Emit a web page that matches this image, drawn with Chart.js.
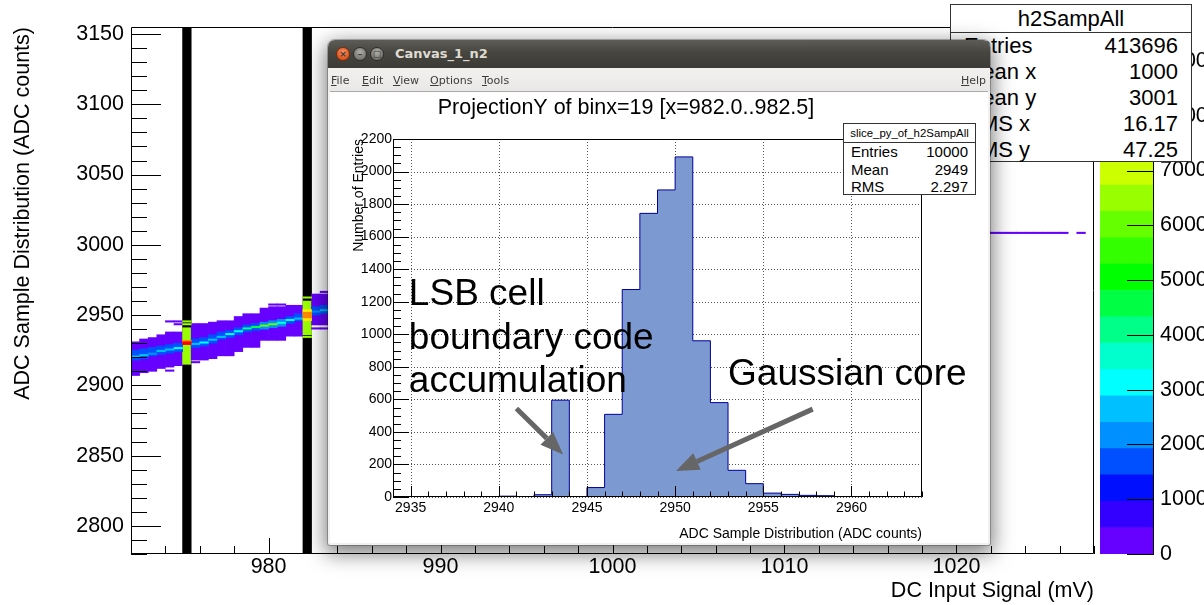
<!DOCTYPE html>
<html lang="en">
<head>
<meta charset="utf-8">
<title>h2SampAll / slice_py_of_h2SampAll</title>
<script src="https://cdn.jsdelivr.net/npm/chart.js@4.4.1/dist/chart.umd.min.js"></script>
<style>
  html, body { margin: 0; padding: 0; background: #fff; }
  body { position: relative; width: 1204px; height: 605px; overflow: hidden;
         font-family: "Liberation Sans", Arial, Helvetica, sans-serif; color: #000; }
  canvas { position: absolute; display: block; }
  #mainPlot { left: 0; top: 0; z-index: 1; }
  #zPlot { left: 1095px; top: 0; z-index: 1; }
  #slicePlot { left: 330px; top: 92px; z-index: 4; }

  .stats { position: absolute; background: #fff; border: 1px solid #333; box-sizing: border-box; }
  .stats .head { text-align: center; border-bottom: 1px solid #333; white-space: nowrap; }
  .stats .row { display: flex; justify-content: space-between; white-space: nowrap; }
  #stats2d { left: 950px; top: 4px; width: 242px; height: 158px; z-index: 2; font-size: 22px; }
  #stats2d .head { height: 27px; line-height: 27px; }
  #stats2d .row { height: 26px; line-height: 26px; padding: 0 13px 0 13px; }
  #statsSlice { left: 843px; top: 123px; width: 133px; height: 72px; z-index: 5; font-size: 15px; }
  #statsSlice .head { height: 18px; line-height: 18px; font-size: 11.4px; }
  #statsSlice .row { height: 17.6px; line-height: 17.6px; padding: 0 7px 0 7px; }

  #win { position: absolute; left: 328px; top: 40px; width: 662px; height: 505px; z-index: 3;
         background: #f2f1f0; border-radius: 7px 7px 2px 2px;
         box-shadow: 0 6px 20px 3px rgba(0,0,0,0.5), 0 0 0 1px rgba(0,0,0,0.25); }
  #win .titlebar { position: absolute; left: 0; top: 0; width: 100%; height: 28px; border-radius: 7px 7px 0 0;
         background: linear-gradient(#5d5c57, #46453f 45%, #3c3b37); }
  #win .btn { position: absolute; top: 7px; width: 14px; height: 14px; border-radius: 50%; box-sizing: border-box;
         font: bold 9px/12px "DejaVu Sans", sans-serif; text-align: center; color: #3c3b37; }
  #win .btn.close { left: 8px; background: radial-gradient(circle at 50% 35%, #f8916a, #e35d25 60%, #c2410f);
         border: 1px solid #7a2e0c; }
  #win .btn.min { left: 25px; background: radial-gradient(circle at 50% 35%, #b0afaa, #7f7e79 60%, #66655f);
         border: 1px solid #2e2d2a; }
  #win .btn.max { left: 42px; background: radial-gradient(circle at 50% 35%, #b0afaa, #7f7e79 60%, #66655f);
         border: 1px solid #2e2d2a; }
  #win .wtitle { position: absolute; left: 67px; top: 6px; font: bold 13px/15px "DejaVu Sans", sans-serif; color: #dfdbd2; }
  #win .menubar { position: absolute; left: 0; top: 28px; width: 100%; height: 23px;
         background: linear-gradient(#f2f1f0, #e9e8e7); font: 11px/13px "DejaVu Sans", sans-serif; color: #3c3c3c; }
  #win .menubar span { position: absolute; top: 6px; }
  #win .pad { position: absolute; left: 2px; top: 51px; width: 658px; height: 452px; background: #fff;
         border-top: 1px solid #a9a9a9; box-sizing: border-box; }
</style>
</head>
<body>
<canvas id="mainPlot" width="1204" height="605"></canvas>
<canvas id="zPlot" width="109" height="605"></canvas>
<div id="stats2d" class="stats"></div>

<div id="win">
  <div class="titlebar">
    <span class="btn close">×</span><span class="btn min">–</span><span class="btn max">□</span>
    <span class="wtitle">Canvas_1_n2</span>
  </div>
  <div class="menubar">
    <span style="left:3px"><u>F</u>ile</span>
    <span style="left:34px"><u>E</u>dit</span>
    <span style="left:65px"><u>V</u>iew</span>
    <span style="left:102px"><u>O</u>ptions</span>
    <span style="left:154px"><u>T</u>ools</span>
    <span style="left:633px"><u>H</u>elp</span>
  </div>
  <div class="pad"></div>
</div>
<canvas id="slicePlot" width="658" height="451"></canvas>
<div id="statsSlice" class="stats"></div>

<script>
// ---- colour contours (20 levels, rainbow palette) ----
const zLevels = [0, 481, 962, 1443, 1924, 2405, 2886, 3367, 3848, 4329, 4810,
                 5291, 5772, 6253, 6734, 7215, 7696, 8177, 8658, 9139, 9620];
const zPalette = ['#6600ff', '#3300ff', '#0010ff', '#0050ff', '#0090ff', '#00c0ff', '#00ffff',
                  '#00ffcc', '#00ff88', '#00ff44', '#00ff00', '#33ff00', '#66ff00', '#99ff00',
                  '#ccff00', '#ffee00', '#ffbb00', '#ff8800', '#ff4400', '#ff0000'];
const zTickValues = [0, 1000, 2000, 3000, 4000, 5000, 6000, 7000, 8000, 9000];

// ---- h2SampAll: x bins (centres, 0.5 mV wide) left of the slice window ----
const sampCols = [972.25, 972.75, 973.25, 973.75, 974.25, 974.75, 975.25, 975.75, 976.25, 976.75,
                  977.25, 977.75, 978.25, 978.75, 979.25, 979.75, 980.25, 980.75, 981.25, 981.75,
                  982.25, 982.75, 983.25];
// occupied ADC range per column
const bandLo = [2907, 2909, 2910, 2912, 2913, 2914, 2915, 2918, 2918, 2919, 2921, 2921,
                2924, 2927, 2927, 2932, 2932, 2932, 2935, 2935, 2936, 2943, 2943];
const bandHi = [2931, 2933, 2934, 2936, 2938, 2938, 2941, 2944, 2944, 2945, 2946, 2946,
                2949, 2951, 2951, 2955, 2956, 2956, 2957, 2957, 2960, 2965, 2965];
const bandLevel = [0, 0, 0, 0, 0, 0, 13, 0, 0, 0, 0, 0, 0, 0, 0, 0, 0, 0, 0, 0, 13, 0, 0];
// denser core of each column
const coreLo = [2918, 2919, 2921, 2922, 2923, 2924, null, 2927, 2928, 2930, 2933, 2934,
                2936, 2938, 2939, 2940, 2941, 2942, 2944, 2946, null, 2950, 2951];
const coreHi = [2925, 2926, 2927, 2928, 2929, 2930, null, 2933, 2934, 2936, 2938, 2939,
                2941, 2943, 2944, 2945, 2946, 2947, 2949, 2951, null, 2956, 2957];
const coreLevel = [3, 3, 3, 3, 3, 3, null, 3, 3, 3, 3, 3, 3, 3, 3, 4, 4, 4, 3, 3, null, 3, 3];
// most populated code of each column
const peakLo = [2920, 2921, 2922, 2924, 2925, 2926, null, 2929, 2930, 2932, 2934, 2936,
                2938, 2940, 2941, 2942, 2943, 2944, 2946, 2947, null, 2952, 2953];
const peakHi = [2921, 2922, 2923, 2925, 2926, 2927, null, 2930, 2931, 2933, 2935, 2937,
                2939, 2941, 2942, 2943, 2944, 2945, 2947, 2948, null, 2953, 2954];
const peakLevel = [5, 5, 4, 5, 5, 6, null, 5, 6, 5, 5, 6, 6, 8, 9, 12, 12, 7, 6, 5, null, 4, 5];
// hot cells in the two stuck columns
const hotCols = [975.25, 975.25, 982.25, 982.25];
const hotLo = [2931, 2929, 2946, 2948];
const hotHi = [2932, 2931, 2954, 2952];
const hotLevel = [17, 19, 15, 17];
// stuck columns (whole column filled)
const stuckCols = [975.25, 982.25];
const stuckLo = [2780, 2780];
const stuckHi = [3155, 3155];
// isolated single-code cells
const strayCols = [974.25, 974.75, 974.75, 974.25, 975.25, 975.25, 975.75, 980.25, 980.75,
                   982.25, 982.25, 982.75, 983.25, 983.25];
const strayLo = [2945, 2945, 2943, 2910, 2945, 2943, 2916, 2957, 2957, 2962, 2934, 2940, 2940, 2966];
const strayHi = [2946, 2946, 2944, 2911, 2946, 2944, 2917, 2958, 2958, 2963, 2935, 2941, 2941, 2967];
const strayLevel = [0, 0, 0, 0, 13, 13, 0, 0, 0, 13, 13, 0, 0, 0];
// thin trace at the upper end of the scan
const tailCols = [1021.75, 1022.25, 1022.75, 1023.25, 1023.75, 1024.25, 1024.75, 1025.25,
                  1025.75, 1026.25, 1027.25];
const tailLo = [3008, 3008, 3008, 3008, 3008, 3008, 3008, 3008, 3008, 3008, 3008];
const tailHi = [3009, 3009, 3009, 3009, 3009, 3009, 3009, 3009, 3009, 3009, 3009];

const stats2dLabels = ['Entries', 'Mean x', 'Mean y', 'RMS x', 'RMS y'];
const stats2dValues = ['413696', '1000', '3001', '16.17', '47.25'];

// ---- slice_py_of_h2SampAll: projection of binx=19 ----
const sliceEdges = [2934, 2935, 2936, 2937, 2938, 2939, 2940, 2941, 2942, 2943, 2944, 2945, 2946,
                    2947, 2948, 2949, 2950, 2951, 2952, 2953, 2954, 2955, 2956, 2957, 2958, 2959,
                    2960, 2961, 2962, 2963, 2964];
const sliceCounts = [0, 0, 0, 0, 0, 0, 5, 0, 14, 595, 0, 58, 508, 1275, 1743, 1887, 2090,
                     960, 580, 164, 82, 24, 16, 10, 8, 0, 0, 0, 0, 0];
const sliceStatsLabels = ['Entries', 'Mean', 'RMS'];
const sliceStatsValues = ['10000', '2949', '2.297'];

// text and arrows on the slice, in axis units
const lsbNote = ['LSB cell', 'boundary code', 'accumulation'];
const lsbNoteX = 2934.9;
const lsbNoteY = [1182, 909, 648];
const coreNote = 'Gaussian core';
const coreNoteX = 2953.0;
const coreNoteY = 689;
const arrowFrom = [[2941.0, 544], [2957.8, 540]];
const arrowTo = [[2943.65, 261], [2950.05, 160]];

const FONT = '"Liberation Sans", Arial, Helvetica, sans-serif';
Chart.defaults.font.family = FONT;
Chart.defaults.color = '#000';
Chart.defaults.animation = false;
Chart.defaults.responsive = false;
Chart.defaults.plugins.legend.display = false;
Chart.defaults.plugins.tooltip.enabled = false;

const crisp = v => Math.round(v) + 0.5;
const onStep = (v, step) => Math.abs(v / step - Math.round(v / step)) < 1e-6;

// ROOT style: ticks pointing into the frame, optional dotted grid
function rootAxes(cfg) {
  return {
    id: 'rootAxes',
    beforeDatasetsDraw(chart) {
      if (!cfg.grid) return;
      const { ctx, chartArea: a, scales } = chart;
      ctx.save();
      ctx.strokeStyle = '#555';
      ctx.lineWidth = 1;
      ctx.setLineDash([1, 2]);
      ctx.beginPath();
      for (const t of scales.x.ticks) {
        if (!onStep(t.value, cfg.grid.x)) continue;
        const p = crisp(scales.x.getPixelForValue(t.value));
        ctx.moveTo(p, a.top); ctx.lineTo(p, a.bottom);
      }
      for (const t of scales.y.ticks) {
        if (!onStep(t.value, cfg.grid.y)) continue;
        const p = crisp(scales.y.getPixelForValue(t.value));
        ctx.moveTo(a.left, p); ctx.lineTo(a.right, p);
      }
      ctx.stroke();
      ctx.restore();
    },
    afterDraw(chart) {
      const { ctx, chartArea: a, scales } = chart;
      ctx.save();
      ctx.strokeStyle = '#000';
      ctx.lineWidth = 1;
      ctx.beginPath();
      for (const id of ['x', 'y']) {
        const s = scales[id];
        const [long, short] = cfg[id].len;
        for (const t of s.ticks) {
          const len = onStep(t.value, cfg[id].major) ? long : short;
          const p = crisp(s.getPixelForValue(t.value));
          if (id === 'x') { ctx.moveTo(p, a.bottom); ctx.lineTo(p, a.bottom - len); }
          else { ctx.moveTo(a.left, p); ctx.lineTo(a.left + len, p); }
        }
      }
      ctx.rect(Math.round(a.left) + 0.5, Math.round(a.top) + 0.5,
               Math.round(a.width) - 1, Math.round(a.height) - 1);
      ctx.stroke();
      ctx.restore();
    }
  };
}

function cellSet(xs, lo, hi, levels, order) {
  return {
    data: xs.map((x, i) => ({ x, y: lo[i] == null ? null : [lo[i], hi[i]] })),
    backgroundColor: xs.map((x, i) => levels[i] == null ? 'rgba(0,0,0,0)' : zPalette[levels[i]]),
    borderWidth: 0,
    grouped: false,
    barPercentage: 1,
    categoryPercentage: 1,
    order
  };
}

// ---- main 2D view ----
new Chart(document.getElementById('mainPlot'), {
  type: 'bar',
  data: {
    datasets: [
      cellSet(hotCols, hotLo, hotHi, hotLevel, 0),
      cellSet(sampCols, peakLo, peakHi, peakLevel, 1),
      cellSet(sampCols, coreLo, coreHi, coreLevel, 2),
      cellSet(strayCols, strayLo, strayHi, strayLevel, 3),
      cellSet(sampCols, bandLo, bandHi, bandLevel, 4),
      cellSet(tailCols, tailLo, tailHi, tailCols.map(() => 0), 4),
      Object.assign(cellSet(stuckCols, stuckLo, stuckHi, [0, 0], 5), { backgroundColor: '#000' })
    ]
  },
  options: {
    layout: { padding: { left: 0, right: 110, top: 27, bottom: 0 } },
    scales: {
      x: {
        type: 'linear', min: 972, max: 1028, offset: false,
        grid: { display: false, drawTicks: false }, border: { display: false },
        ticks: { stepSize: 2, autoSkip: false, maxRotation: 0, includeBounds: false, padding: 0,
                 font: { size: 21.5 }, callback: v => onStep(v, 10) ? String(v) : '' },
        title: { display: true, text: 'DC Input Signal (mV)', align: 'end',
                 font: { size: 21.5 }, padding: { top: 0, bottom: 1 } },
        afterFit: s => { s.height = 51; }
      },
      y: {
        min: 2780, max: 3155,
        grid: { display: false, drawTicks: false }, border: { display: false },
        ticks: { stepSize: 10, autoSkip: false, includeBounds: false, padding: 7,
                 font: { size: 21.5 }, callback: v => onStep(v, 50) ? String(v) : '' },
        title: { display: true, text: 'ADC Sample Distribution (ADC counts)', align: 'end',
                 font: { size: 21.5 }, padding: { top: 10, bottom: 0 } },
        afterFit: s => { s.width = 131; }
      }
    }
  },
  plugins: [rootAxes({ x: { major: 10, len: [16, 8] }, y: { major: 50, len: [30, 16] } })]
});

// ---- colour scale ----
const zTicks = {
  id: 'zTicks',
  afterDraw(chart) {
    const { ctx, chartArea: a, scales: { y } } = chart;
    ctx.save();
    ctx.strokeStyle = '#000';
    ctx.lineWidth = 1;
    ctx.beginPath();
    for (const t of y.ticks) {
      const p = crisp(y.getPixelForValue(t.value));
      ctx.moveTo(a.right, p); ctx.lineTo(a.right - 27, p);
    }
    ctx.moveTo(Math.round(a.right) - 0.5, a.top); ctx.lineTo(Math.round(a.right) - 0.5, a.bottom);
    ctx.stroke();
    ctx.restore();
  }
};

new Chart(document.getElementById('zPlot'), {
  type: 'bar',
  data: {
    labels: [''],
    datasets: zPalette.map((c, i) => ({
      data: [[zLevels[i], zLevels[i + 1]]],
      backgroundColor: c, borderWidth: 0, grouped: false, barPercentage: 1, categoryPercentage: 1
    }))
  },
  options: {
    layout: { padding: { left: 5, right: 0, top: 27, bottom: 51 } },
    scales: {
      x: { display: false },
      y: {
        position: 'right', min: 0, max: 9620,
        grid: { display: false, drawTicks: false }, border: { display: false },
        ticks: { padding: 6, font: { size: 21.5 }, callback: v => String(v) },
        afterBuildTicks: s => { s.ticks = zTickValues.map(v => ({ value: v })); },
        afterFit: s => { s.width = 50; }
      }
    }
  },
  plugins: [zTicks]
});

// ---- slice histogram ----
const slicePoints = sliceEdges.map((x, i) => ({ x, y: sliceCounts[Math.min(i, sliceCounts.length - 1)] }));

function drawArrow(ctx, x0, y0, x1, y1) {
  const ang = Math.atan2(y1 - y0, x1 - x0);
  const head = 23, half = 9;
  const bx = x1 - head * Math.cos(ang), by = y1 - head * Math.sin(ang);
  ctx.beginPath();
  ctx.moveTo(x0, y0); ctx.lineTo(bx, by);
  ctx.stroke();
  ctx.beginPath();
  ctx.moveTo(x1, y1);
  ctx.lineTo(bx + half * Math.sin(ang), by - half * Math.cos(ang));
  ctx.lineTo(bx - half * Math.sin(ang), by + half * Math.cos(ang));
  ctx.closePath();
  ctx.fill();
}

const sliceNotes = {
  id: 'sliceNotes',
  afterDatasetsDraw(chart) {
    const { ctx, scales: { x, y } } = chart;
    ctx.save();
    ctx.fillStyle = '#000';
    ctx.font = '37px ' + FONT;
    ctx.textBaseline = 'alphabetic';
    ctx.textAlign = 'left';
    lsbNote.forEach((t, i) => ctx.fillText(t, x.getPixelForValue(lsbNoteX), y.getPixelForValue(lsbNoteY[i])));
    ctx.fillText(coreNote, x.getPixelForValue(coreNoteX), y.getPixelForValue(coreNoteY));
    ctx.strokeStyle = '#666';
    ctx.fillStyle = '#666';
    ctx.lineWidth = 5;
    arrowFrom.forEach((f, i) => {
      const t = arrowTo[i];
      drawArrow(ctx, x.getPixelForValue(f[0]), y.getPixelForValue(f[1]),
                x.getPixelForValue(t[0]), y.getPixelForValue(t[1]));
    });
    ctx.restore();
  }
};

new Chart(document.getElementById('slicePlot'), {
  type: 'line',
  data: {
    datasets: [{
      data: slicePoints,
      stepped: true,
      fill: 'origin',
      backgroundColor: '#7d99d1',
      borderColor: '#000099',
      borderWidth: 1,
      pointRadius: 0,
      tension: 0
    }]
  },
  options: {
    layout: { padding: { left: 0, right: 66, top: 0, bottom: 0 } },
    plugins: {
      title: { display: true, text: 'ProjectionY of binx=19 [x=982.0..982.5]',
               font: { size: 21.5, weight: 'normal' }, color: '#000', padding: { top: 3, bottom: 18.2 } }
    },
    scales: {
      x: {
        type: 'linear', min: 2934, max: 2964,
        grid: { display: false, drawTicks: false }, border: { display: false },
        ticks: { stepSize: 1, autoSkip: false, maxRotation: 0, includeBounds: false, padding: 3,
                 font: { size: 14 }, callback: v => onStep(v, 5) ? String(v) : '' },
        title: { display: true, text: 'ADC Sample Distribution (ADC counts)', align: 'end',
                 font: { size: 14 }, padding: { top: 0, bottom: 0 } },
        afterFit: s => { s.height = 46; }
      },
      y: {
        min: 0, max: 2200,
        grid: { display: false, drawTicks: false }, border: { display: false },
        ticks: { stepSize: 50, autoSkip: false, includeBounds: false, padding: 1,
                 font: { size: 14 }, callback: v => onStep(v, 200) ? String(v) : '' },
        title: { display: true, text: 'Number of Entries', align: 'end',
                 font: { size: 14 }, padding: { top: 20.6, bottom: 0 } },
        afterFit: s => { s.width = 63; }
      }
    }
  },
  plugins: [
    rootAxes({ x: { major: 5, len: [11, 5.5] }, y: { major: 200, len: [16, 8] }, grid: { x: 5, y: 200 } }),
    sliceNotes
  ]
});

// ---- statistics boxes ----
function fillStats(id, title, labels, values) {
  const box = document.getElementById(id);
  const head = document.createElement('div');
  head.className = 'head';
  head.textContent = title;
  box.appendChild(head);
  labels.forEach((l, i) => {
    const row = document.createElement('div');
    row.className = 'row';
    const a = document.createElement('span');
    a.textContent = l;
    const b = document.createElement('span');
    b.textContent = values[i];
    row.append(a, b);
    box.appendChild(row);
  });
}
fillStats('stats2d', 'h2SampAll', stats2dLabels, stats2dValues);
fillStats('statsSlice', 'slice_py_of_h2SampAll', sliceStatsLabels, sliceStatsValues);
</script>
</body>
</html>
